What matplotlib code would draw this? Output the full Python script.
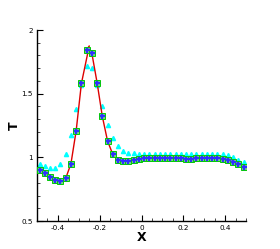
import matplotlib
matplotlib.use("Agg")
import matplotlib.pyplot as plt
from matplotlib.ticker import MultipleLocator

# cell centres
x = [-0.4875 + 0.025 * i for i in range(40)]

# scheme A (green squares) and scheme B (blue crosses) coincide
t_square = [0.904, 0.877, 0.849, 0.822, 0.814, 0.835, 0.95, 1.21, 1.58, 1.843,
            1.817, 1.586, 1.322, 1.128, 1.024, 0.976, 0.969, 0.971, 0.978, 0.987,
            0.992, 0.995, 0.995, 0.995, 0.995, 0.995, 0.992, 0.992, 0.99, 0.99,
            0.992, 0.995, 0.997, 0.997, 0.997, 0.987, 0.976, 0.963, 0.945, 0.924]

# cyan triangles
t_tri = [0.95, 0.932, 0.919, 0.919, 0.95, 1.029, 1.173, 1.38, 1.57, 1.718,
         1.705, 1.57, 1.40, 1.256, 1.149, 1.089, 1.053, 1.037, 1.031, 1.03,
         1.03, 1.03, 1.03, 1.03, 1.03, 1.03, 1.03, 1.03, 1.03, 1.03,
         1.03, 1.03, 1.03, 1.03, 1.03, 1.025, 1.015, 1.0, 0.98, 0.963]

# reference (red line)
line_x = x[:9] + [-0.25] + x[9:]
line_t = t_square[:9] + [1.875] + t_square[9:]

fig = plt.figure(figsize=(2.8, 2.49), dpi=100)
ax = fig.add_axes([0.132, 0.1124, 0.747, 0.7671])

ax.plot(line_x, line_t, color="#dd0000", lw=1.0, zorder=2)
ax.plot(x, t_tri, ls="none", marker="^", ms=3.0, color="#00ffff", mec="#00ffff", zorder=1)
ax.plot(x, t_square, ls="none", marker="s", ms=4.6, mfc="#77e077", mec="#00cc00", mew=0.7, zorder=3)
ax.plot(x, t_square, ls="none", marker="P", ms=3.6, color="#3030ff", mec="#3030ff", mew=0.2, zorder=4)

ax.set_xlim(-0.5, 0.5)
ax.set_ylim(0.5, 2.0)
ax.xaxis.set_minor_locator(MultipleLocator(0.05))
ax.yaxis.set_minor_locator(MultipleLocator(0.1))
ax.set_xticks([-0.4, -0.2, 0, 0.2, 0.4])
ax.set_xticklabels(["-0.4", "-0.2", "0", "0.2", "0.4"])
ax.set_yticks([0.5, 1, 1.5, 2])
ax.set_yticklabels(["0.5", "1", "1.5", "2"])

ax.spines["top"].set_visible(False)
ax.spines["right"].set_visible(False)
ax.spines["left"].set_linewidth(1.0)
ax.spines["bottom"].set_linewidth(1.0)
ax.tick_params(which="major", direction="in", length=4, width=0.8, labelsize=5.2, pad=3)
ax.tick_params(which="minor", direction="in", length=2, width=0.5)

ax.set_xlabel("X", fontsize=9, fontweight="bold", labelpad=0)
ax.set_ylabel("T", fontsize=9, fontweight="bold", rotation=90, labelpad=0)

fig.savefig("out.png", dpi=100)
